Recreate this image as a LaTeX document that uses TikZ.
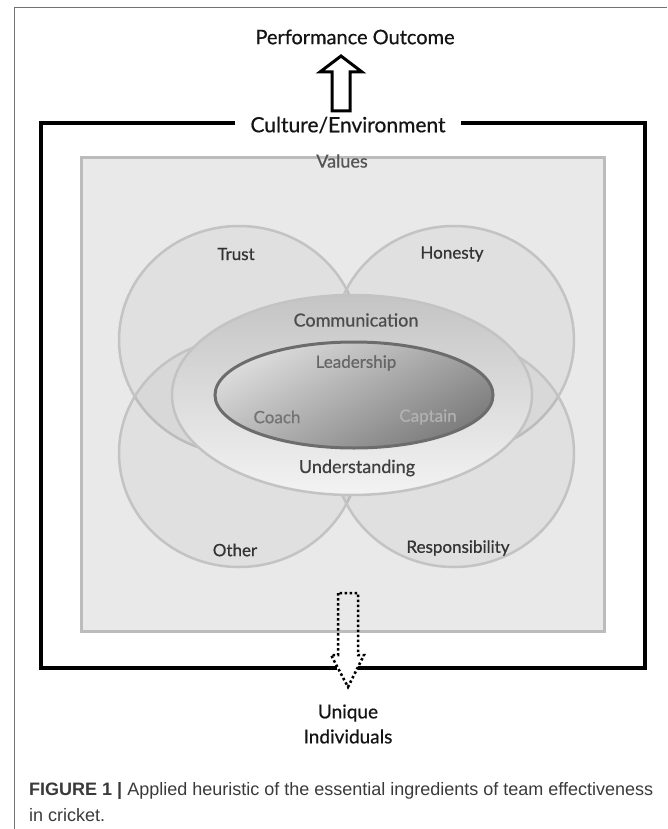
\documentclass[tikz,border=0pt]{standalone}
\usepackage{fontspec}
\setmainfont{Lato}[FakeBold=0.6]
\newfontfamily\labfont{Lato}[FakeBold=0.6]
\newfontfamily\capfont{Liberation Sans}
\usepackage{tikz}
\usetikzlibrary{calc}
\definecolor{boxfill}{HTML}{E9E9E9}
\definecolor{boxline}{HTML}{BCBCBC}
\definecolor{petalline}{HTML}{C3C3C3}
\definecolor{ringtop}{HTML}{C4C4C4}
\definecolor{ringbot}{HTML}{F3F3F3}
\definecolor{coreline}{HTML}{6C6C6C}
\definecolor{corelight}{HTML}{DCDCDC}
\definecolor{coredark}{HTML}{7C7C7C}
\definecolor{captext}{HTML}{3A3A3A}
\tikzstyle{heading}=[font=\labfont\fontsize{20}{24}\selectfont, text=black!92]
\tikzstyle{petaltext}=[font=\labfont\fontsize{17}{20}\selectfont, text=black!80]
\tikzstyle{ringtext}=[font=\labfont\fontsize{18}{21}\selectfont, text=black!70]
\tikzstyle{coretext}=[font=\labfont\fontsize{17}{20}\selectfont]
\tikzstyle{captext}=[font=\capfont\fontsize{18}{22}\selectfont, text=captext, inner sep=0pt]
\tikzstyle{thickframe}=[draw=black, line width=4]
\tikzstyle{valuebox}=[draw=boxline, fill=boxfill, line width=3]
\tikzstyle{petal}=[draw=petalline, line width=2.5, fill=black, fill opacity=0.035]
\tikzstyle{ring}=[draw=petalline, line width=2.5, top color=ringtop, bottom color=ringbot]
\tikzstyle{core}=[draw=coreline, line width=3, top color=corelight, bottom color=coredark, shading angle=30]
\tikzstyle{blockarrow}=[draw=black, line width=3, fill=white, line join=miter]
\tikzstyle{dotarrow}=[draw=black, line width=2.5, dash pattern=on 2.5pt off 2.5pt]

\begin{document}
\begin{tikzpicture}[x=1pt, y=-1pt]
  \useasboundingbox (0,0) rectangle (667,829);
  % figure frame
  \draw[black!55, line width=1] (14,829) -- (14,8) -- (667,8);
  % culture frame, open where the dotted arrow leaves it
  \draw[thickframe] (337,668) -- (41,668) -- (41,123) -- (645,123) -- (645,668) -- (358,668);
  \draw[valuebox] (81,158) rectangle (604,631);
  \node[ringtext, text=black!67] at (342,161) (values) {Values};

  % petals
  \draw[petal] (239,340) ellipse [x radius=120, y radius=114];
  \draw[petal] (454,340) ellipse [x radius=120, y radius=114];
  \draw[petal] (239,453) ellipse [x radius=120, y radius=114];
  \draw[petal] (454,453) ellipse [x radius=120, y radius=114];
  \node[petaltext] at (236,254) (trust) {Trust};
  \node[petaltext] at (452,254) (honesty) {Honesty};
  \node[petaltext] at (235,550) (other) {Other};
  \node[petaltext] at (458,548) (resp) {Responsibility};

  % communication ring and leadership core
  \draw[ring] (352,395) ellipse [x radius=180, y radius=100];
  \draw[core] (354,395) ellipse [x radius=139, y radius=53];
  \node[ringtext] at (356,320) (comm) {Communication};
  \node[ringtext, text=black!75] at (357,468) (underst) {Understanding};
  \node[coretext, text=black!60] at (356,363) (lead) {Leadership};
  \node[coretext, text=black!55] at (277,417) (coach) {Coach};
  \node[coretext, text=black!30] at (428,417) (captain) {Captain};

  % outcome and culture
  \node[heading] at (355,37) (perf) {Performance Outcome};
  \node[heading, font=\labfont\fontsize{21}{25}\selectfont, fill=white, inner xsep=15pt] at (348,125) (culture) {Culture/Environment};
  \coordinate (uptail) at (341,111);
  \coordinate (uptip) at (341,56);
  \draw[blockarrow] ($(uptail)+(-9,0)$) -- ($(uptip)+(-9,16)$) -- ($(uptip)+(-21,16)$) -- (uptip)
    -- ($(uptip)+(21,16)$) -- ($(uptip)+(9,16)$) -- ($(uptail)+(9,0)$) -- cycle;

  % individuals
  \node[heading, font=\labfont\fontsize{19}{25}\selectfont, align=center] at (348,724) (indiv) {Unique\\Individuals};
  \coordinate (downtail) at (348,593);
  \coordinate (downtip) at (348,687);
  \draw[dotarrow] ($(downtail)+(-10,0)$) -- ($(downtip)+(-10,-32)$) -- ($(downtip)+(-17,-32)$) -- (downtip)
    -- ($(downtip)+(16,-32)$) -- ($(downtip)+(10,-32)$) -- ($(downtail)+(10,0)$) -- cycle;

  % caption
  \node[captext, anchor=base west] at (29,795) (capline) {\textbf{FIGURE 1 |} Applied heuristic of the essential ingredients of team effectiveness};
  \node[captext, anchor=base west] at (29,821) (capend) {in cricket.};
\end{tikzpicture}
\end{document}
